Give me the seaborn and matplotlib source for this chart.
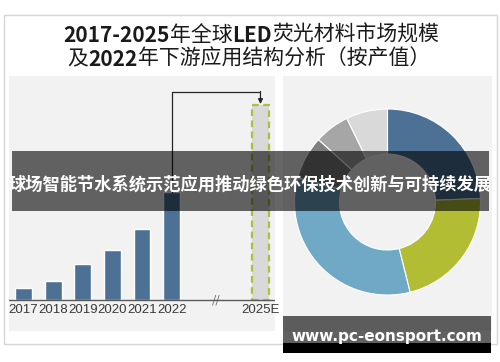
import matplotlib
matplotlib.use("Agg")
import matplotlib.pyplot as plt
from matplotlib.patches import Rectangle
import pandas as pd
import seaborn as sns

# data (bar heights in arbitrary units)
years = ["2017", "2018", "2019", "2020", "2021", "2022"]
market = [12, 19, 36, 50, 71, 108]
forecast_year = "2025E"
forecast_value = 195

# downstream application shares (%), clockwise from 12 o'clock
segment_share = [24.4, 21.7, 33.1, 7.5, 6.1, 7.2]
segment_colors = ["#4d7194", "#b3bd34", "#70a9c6", "#7f7f7f", "#a6a6a6", "#d9d9d9"]

# title pieces: (text, bold?)
title_1 = [("2017-2025", True), ("年全球", False), ("LED", True), ("荧光材料市场规模", False)]
title_2 = [("及", False), ("2022", True), ("年下游应用结构分析（按产值）", False)]
banner = "球场智能节水系统示范应用推动绿色环保技术创新与可持续发展"
site = "www.pc-eonsport.com"

W, H = 500, 362


def fx(px):
    return px / W


def fy(py):
    return 1 - py / H


def fig_rect(x0, y0, x1, y1, **kw):
    return Rectangle((fx(x0), fy(y1)), (x1 - x0) / W, (y1 - y0) / H,
                     transform=fig.transFigure, **kw)


def mixed_line(pieces, x_center, y, size):
    # draw pieces once to measure, then shift so the whole line is centred
    renderer = fig.canvas.get_renderer()
    texts = []
    x = 0
    for txt, bold in pieces:
        t = fig.text(x, fy(y), txt, ha="left", va="center", fontsize=size,
                     fontweight="bold" if bold else "normal", color="#1a1a1a")
        w = t.get_window_extent(renderer).width / W
        texts.append((t, x))
        x += w
    start = fx(x_center) - x / 2
    for t, off in texts:
        t.set_x(start + off)


sns.set_theme(style="white")
plt.rcParams['font.family'] = ['Noto Sans CJK SC', 'DejaVu Sans']

fig = plt.figure(figsize=(5, 3.62), dpi=100)
fig.patch.set_facecolor("white")

# outer frame
fig.patches.append(fig_rect(4, 15, 497, 344, fill=False, edgecolor="#d6d6d6", lw=1))

mixed_line(title_1, 251, 35, 15)
mixed_line(title_2, 249, 59, 15)

# left panel: bar chart
ax1 = fig.add_axes([fx(9), fy(331), 266 / W, 255 / H])
ax1.set_facecolor("#f2f2f2")

hist = pd.DataFrame({"pos": list(range(len(years))), "value": market})
sns.barplot(data=hist, x="pos", y="value", native_scale=True, orient="x",
            width=0.57, color="#4d7194", saturation=1, ax=ax1)
fpos = len(years) + 2
sns.barplot(x=[fpos], y=[forecast_value], native_scale=True, orient="x",
            width=0.57, color="#d9d9d9", saturation=1, ax=ax1,
            edgecolor="#a9c23a", linewidth=1.6, linestyle=(0, (3, 2)))

ax1.set_xlim(-0.49, 8.49)
ax1.set_ylim(-31, 224)
for s in ax1.spines.values():
    s.set_visible(False)
ax1.spines["bottom"].set_position(("data", 0))
ax1.axhline(0, color="#595959", lw=1)
ax1.set_xticks(list(range(len(years))) + [fpos], years + [forecast_year])
ax1.set_yticks([])
ax1.set_xlabel("")
ax1.set_ylabel("")
ax1.tick_params(axis="x", length=0, pad=3, labelsize=9.5, labelcolor="#3a3a3a")
for lbl in ax1.get_xticklabels():
    lbl.set_fontfamily("Liberation Sans")
ax1.text((len(years) - 1 + fpos) / 2, 0, "//", ha="center", va="center",
         fontsize=8, color="#595959")

# growth arrow from 2022 to 2025E
ax1.plot([len(years) - 1, len(years) - 1, fpos], [market[-1], 208, 208],
         color="#262626", lw=0.9)
ax1.annotate("", xy=(fpos, forecast_value + 1), xytext=(fpos, 208.5),
             arrowprops=dict(arrowstyle="-|>", color="#262626", lw=0.9,
                             mutation_scale=7, shrinkA=0, shrinkB=0))

# right panel: donut
ax2 = fig.add_axes([fx(283), fy(331), 209 / W, 255 / H])
ax2.set_facecolor("#f2f2f2")
ax2.pie(segment_share, colors=segment_colors, startangle=90, counterclock=False,
        radius=1, center=(0, 0.016), frame=True,
        wedgeprops=dict(width=0.484, edgecolor="white", linewidth=0.8))
ax2.set_xlim(-209 / 2 / 93, 209 / 2 / 93)
ax2.set_ylim(-255 / 2 / 93, 255 / 2 / 93)
ax2.set_aspect("equal", adjustable="datalim")
ax2.set_xticks([])
ax2.set_yticks([])
for s in ax2.spines.values():
    s.set_visible(False)

# overlay banner
fig.patches.append(fig_rect(12, 151, 489, 211, facecolor="black", alpha=0.6,
                            edgecolor="none", zorder=10))
fig.text(fx(250), fy(185), banner, ha="center", va="center", fontsize=12.4,
         fontweight="bold", color="white", zorder=11)

# site label box
fig.patches.append(fig_rect(283, 316, 491, 343, facecolor="black", alpha=0.62,
                            edgecolor="none", zorder=10))
fig.patches.append(fig_rect(283, 343, 491, 353, facecolor="black",
                            edgecolor="none", zorder=10))
fig.text(fx(387), fy(337), site, ha="center", va="center", fontsize=11,
         fontweight="bold", color="white", family="DejaVu Sans", zorder=11)

fig.savefig("out.png", dpi=100)
